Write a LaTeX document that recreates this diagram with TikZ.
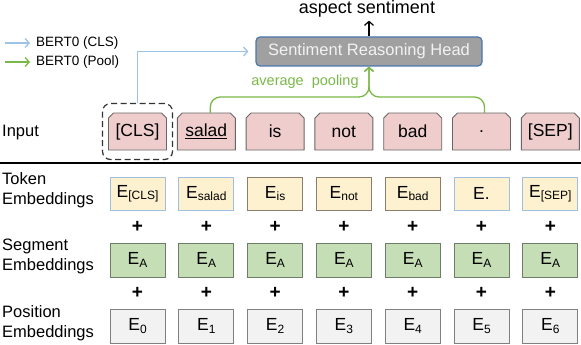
\documentclass[tikz,border=0pt]{standalone}
\usepackage{fontspec}
\setmainfont{Liberation Sans}
\usetikzlibrary{arrows.meta,positioning,fit,backgrounds}
\definecolor{clsblue}{RGB}{157,195,230}
\definecolor{poolgreen}{RGB}{122,184,72}
\definecolor{inputpink}{RGB}{240,205,205}
\definecolor{tokenyellow}{RGB}{253,241,208}
\definecolor{tokenblue}{RGB}{160,190,222}
\definecolor{tokenbrown}{RGB}{140,126,108}
\definecolor{seggreen}{RGB}{197,222,181}
\definecolor{segedge}{RGB}{110,125,104}
\definecolor{posgray}{RGB}{242,242,242}
\definecolor{headgray}{RGB}{160,160,160}
\definecolor{headblue}{RGB}{76,118,174}

\newcommand{\Esub}[1]{E\raisebox{-2.5pt}{\fontsize{12}{13}\selectfont #1}}

\begin{document}
\begin{tikzpicture}[
    x=1pt, y=-1pt,
    >={Straight Barb[length=4pt,width=9pt]},
    inbox/.style={
        rectangle,
        minimum width=58pt,
        minimum height=37pt,
        inner sep=0pt,
        outer sep=0pt,
        font=\fontsize{17.5}{20}\selectfont
    },
    inshape/.style={draw=black!60, fill=inputpink, line width=0.9pt},
    tokbox/.style={
        rectangle,
        draw=tokenbrown,
        fill=tokenyellow,
        line width=0.9pt,
        minimum width=55pt,
        minimum height=33pt,
        inner sep=0pt,
        outer sep=0pt,
        font=\fontsize{17.5}{20}\selectfont
    },
    tokedge/.style={tokbox, draw=tokenblue},
    segbox/.style={tokbox, draw=segedge, fill=seggreen, minimum height=34pt},
    posbox/.style={tokbox, draw=black!50, fill=posgray, minimum height=34pt},
    plus/.style={font=\fontsize{19}{19}\selectfont\bfseries, inner sep=0pt},
    rowlabel/.style={align=left, anchor=west, inner sep=0pt, font=\fontsize{16.5}{20.5}\selectfont},
    legend/.style={anchor=west, inner sep=0pt, font=\fontsize{13.5}{16}\selectfont},
    headbox/.style={
        rectangle,
        rounded corners=4pt,
        draw=headblue,
        fill=headgray,
        line width=1.2pt,
        text=black!5,
        minimum width=226pt,
        minimum height=29pt,
        font=\fontsize{16.5}{20}\selectfont
    },
    focusbox/.style={
        draw=black!80,
        dash pattern=on 6pt off 3.5pt,
        rounded corners=8pt,
        line width=1.2pt,
        inner xsep=6pt,
        inner ysep=9.5pt
    },
    clsline/.style={->, draw=clsblue, line width=1.3pt},
    poolline/.style={->, draw=poolgreen, line width=1.3pt}
]
\useasboundingbox (0,0) rectangle (581,345);

% legend
\coordinate (lgcls) at (5,43);
\coordinate (lgpool) at (5,62);
\node[legend] (lgclstext) at (36,43) {BERT0 (CLS)};
\node[legend] (lgpooltext) at (36,62) {BERT0 (Pool)};
\draw[clsline, shorten >=6pt] (lgcls) -- (lgclstext.west);
\draw[poolline, shorten >=6pt] (lgpool) -- (lgpooltext.west);

% input tokens
\node[rowlabel] (lblin) at (2,133) {Input};
\node[inbox] (in1) at (137.5,131.5) {[CLS]};
\node[inbox, right=10.8pt of in1] (in2) {\underline{salad}};
\node[inbox, right=10.8pt of in2] (in3) {is};
\node[inbox, right=10.8pt of in3] (in4) {not};
\node[inbox, right=10.8pt of in4] (in5) {bad};
\node[inbox, right=10.8pt of in5] (in6) {.};
\node[inbox, right=10.8pt of in6] (in7) {[SEP]};
\node[focusbox, fit=(in1)] (clsfocus) {};

% chamfered tops behind the input words
\begin{scope}[on background layer]
\foreach \i in {1,...,7}
    \draw[inshape] (in\i.south west) -- ([yshift=-5pt]in\i.north west)
        -- ([xshift=5pt]in\i.north west) -- ([xshift=-5pt]in\i.north east)
        -- ([yshift=-5pt]in\i.north east) -- (in\i.south east) -- cycle;
\end{scope}

% head
\node[headbox] (head) at (369,51.5) {Sentiment Reasoning Head};
\node[inner sep=0pt, font=\fontsize{18}{20}\selectfont] (aspect) at (367,9) {aspect sentiment};
\draw[->, line width=1.2pt, shorten >=3pt] (head.north) -- (head.north |- aspect.south);

\node[inner sep=0pt, text=poolgreen, font=\fontsize{14.5}{16}\selectfont] (pooltext) at (305,82) {average\ \ pooling};
\coordinate (poolmid) at (369,97);
\draw[poolline, rounded corners=10pt] ([xshift=4pt]in2.north) |- (poolmid) -- (head.south);
\draw[poolline, rounded corners=10pt] ([xshift=3pt]in6.north) |- (poolmid) -- (head.south);
\draw[clsline, shorten >=7pt] (clsfocus.north) |- (head.west);

% separator
\draw[line width=2.2pt] (0,163) -- (581,163);

% token embeddings
\node[rowlabel] (lbltok) at (2,190) {Token\\Embeddings};
\node[tokedge, below=27pt of in1] (tok1) {\Esub{[CLS]}};
\node[tokedge, right=13.8pt of tok1] (tok2) {\Esub{salad}};
\node[tokbox, right=13.8pt of tok2] (tok3) {\Esub{is}};
\node[tokbox, right=13.8pt of tok3] (tok4) {\Esub{not}};
\node[tokbox, right=13.8pt of tok4] (tok5) {\Esub{bad}};
\node[tokedge, right=13.8pt of tok5] (tok6) {E.};
\node[tokedge, right=13.8pt of tok6] (tok7) {\Esub{[SEP]}};

% segment embeddings
\node[rowlabel] (lblseg) at (2,256.5) {Segment\\Embeddings};
\node[segbox, below=33pt of tok1] (seg1) {\Esub{A}};
\node[segbox, right=13.8pt of seg1] (seg2) {\Esub{A}};
\node[segbox, right=13.8pt of seg2] (seg3) {\Esub{A}};
\node[segbox, right=13.8pt of seg3] (seg4) {\Esub{A}};
\node[segbox, right=13.8pt of seg4] (seg5) {\Esub{A}};
\node[segbox, right=13.8pt of seg5] (seg6) {\Esub{A}};
\node[segbox, right=13.8pt of seg6] (seg7) {\Esub{A}};

% position embeddings
\node[rowlabel] (lblpos) at (2,323) {Position\\Embeddings};
\node[posbox, below=32pt of seg1] (pos1) {\Esub{0}};
\node[posbox, right=13.8pt of pos1] (pos2) {\Esub{1}};
\node[posbox, right=13.8pt of pos2] (pos3) {\Esub{2}};
\node[posbox, right=13.8pt of pos3] (pos4) {\Esub{3}};
\node[posbox, right=13.8pt of pos4] (pos5) {\Esub{4}};
\node[posbox, right=13.8pt of pos5] (pos6) {\Esub{5}};
\node[posbox, right=13.8pt of pos6] (pos7) {\Esub{6}};

\foreach \i in {1,...,7} {
    \path (tok\i) -- (seg\i) node[plus, midway] (pa\i) {+};
    \path (seg\i) -- (pos\i) node[plus, midway] (pb\i) {+};
}
\end{tikzpicture}
\end{document}
